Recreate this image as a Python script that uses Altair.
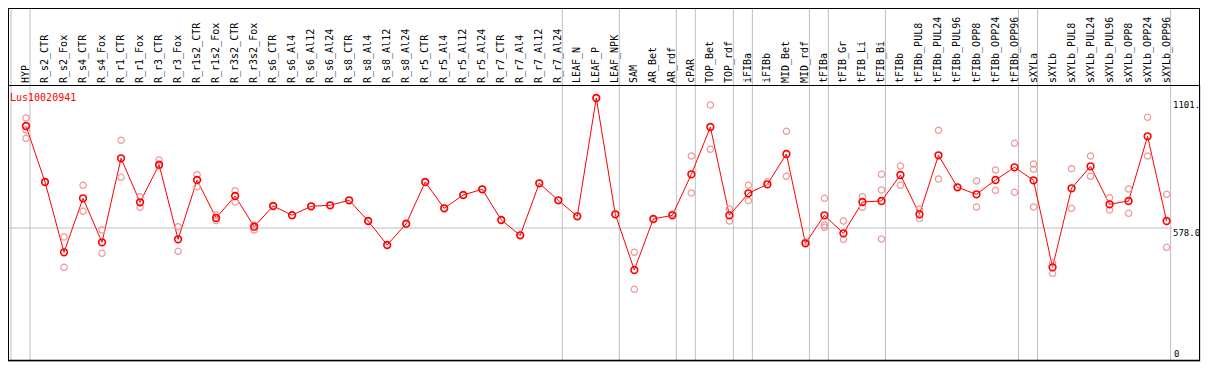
import altair as alt
import pandas as pd

categories = [
    "HYP", "R_s2_CTR", "R_s2_Fox", "R_s4_CTR", "R_s4_Fox", "R_r1_CTR", "R_r1_Fox",
    "R_r3_CTR", "R_r3_Fox", "R_r1s2_CTR", "R_r1s2_Fox", "R_r3s2_CTR", "R_r3s2_Fox",
    "R_s6_CTR", "R_s6_Al4", "R_s6_Al12", "R_s6_Al24", "R_s8_CTR", "R_s8_Al4",
    "R_s8_Al12", "R_s8_Al24", "R_r5_CTR", "R_r5_Al4", "R_r5_Al12", "R_r5_Al24",
    "R_r7_CTR", "R_r7_Al4", "R_r7_Al12", "R_r7_Al24", "LEAF_N", "LEAF_P", "LEAF_NPK",
    "SAM", "AR_Bet", "AR_rdf", "cPAR", "TOP_Bet", "TOP_rdf", "iFIBa", "iFIBb",
    "MID_Bet", "MID_rdf", "tFIBa", "tFIB_Gr", "tFIB_Li", "tFIB_Bi", "tFIBb",
    "tFIBb_PUL8", "tFIBb_PUL24", "tFIBb_PUL96", "tFIBb_OPP8", "tFIBb_OPP24",
    "tFIBb_OPP96", "sXYLa", "sXYLb", "sXYLb_PUL8", "sXYLb_PUL24", "sXYLb_PUL96",
    "sXYLb_OPP8", "sXYLb_OPP24", "sXYLb_OPP96",
]

means = [
    996.1, 766.6, 478.4, 699.8, 519.4, 863.7, 683.4, 837.5, 531.7, 774.8, 619.0,
    709.2, 583.3, 668.2, 630.5, 667.0, 671.1, 691.6, 606.7, 508.3, 595.6, 766.6,
    658.8, 713.3, 736.6, 610.8, 548.1, 761.2, 691.6, 626.0, 1110.9, 634.2, 405.8,
    614.9, 630.1, 798.1, 992.0, 630.1, 720.2, 757.1, 881.3, 515.3, 630.1, 556.3,
    684.6, 688.7, 795.3, 634.2, 876.0, 744.8, 716.1, 774.8, 826.8, 773.5, 416.9,
    740.7, 830.9, 675.2, 688.7, 953.9, 606.7,
]

replicates = [
    [1028.9, 979.7, 945.7], [766.6], [541.1, 416.9], [753.0, 646.5], [569.8, 474.3],
    [937.5, 785.8], [706.3, 662.9], [856.8, 832.2], [583.3, 482.5], [796.5, 747.3],
    [631.3, 607.9], [730.9, 684.6], [590.3, 569.8], [668.2], [630.5], [667.0],
    [671.1], [691.6], [606.7], [508.3], [595.6], [766.6], [658.8], [713.3], [736.6],
    [610.8], [548.1], [761.2], [691.6], [626.0], [1110.9], [634.2], [478.4, 326.7],
    [614.9], [635.4], [873.2, 721.5], [1082.2, 900.6], [655.9, 606.7], [753.0, 689.9],
    [767.8], [974.4, 789.9], [521.8], [699.8, 590.3, 580.9], [606.7, 531.7],
    [706.3, 662.9], [798.1, 733.8, 532.9], [832.2, 753.0], [654.7, 616.1],
    [978.5, 778.9], [744.8], [770.7, 664.1], [815.8, 732.5], [925.2, 724.3],
    [840.4, 818.6, 664.1], [435.8, 392.3], [821.1, 658.8], [873.2, 789.9],
    [702.2, 651.8], [737.9, 638.3], [1031.8, 873.2], [716.1, 498.9],
]

separators_after = [-1, 0, 28, 31, 34, 35, 37, 38, 41, 42, 45, 52, 53, 60]
gene = "Lus10020941"
ref_value = 578.0
scale_labels = ["1101.", "578.0"]
scale_label_values = [1101, 578]
y_top_value = 1164.2

FONT = "DejaVu Sans Mono"
W, H = 1192, 276
HEADER = 77
FULL_H = 284  # height that spans value 0 .. y_top_value
y_bottom_value = y_top_value * (FULL_H - H) / FULL_H

mean_df = pd.DataFrame({"idx": list(range(len(categories))), "cat": categories, "value": means})
rep_rows = []
for i, reps in enumerate(replicates):
    for v in reps:
        rep_rows.append({"idx": i, "value": v})
rep_df = pd.DataFrame(rep_rows)
sep_df = pd.DataFrame({"sep": [s + 0.21 for s in separators_after]})
ref_df = pd.DataFrame({"value": [ref_value]})
lab_df = pd.DataFrame({"value": scale_label_values, "text": scale_labels})
zero_df = pd.DataFrame({"text": ["0"]})

xscale = alt.Scale(domain=[0, 60], range=[18, 1158.6])
yscale = alt.Scale(domain=[y_bottom_value, y_top_value], zero=False, nice=False)
X = lambda f: alt.X(f, type="quantitative", scale=xscale, axis=None)
Y = lambda f: alt.Y(f, type="quantitative", scale=yscale, axis=None)

seps = alt.Chart(sep_df).mark_rule(color="#c0c0c0", strokeWidth=1).encode(
    x=X("sep"), y=alt.value(-HEADER), y2=alt.value(H)
)
refline = alt.Chart(ref_df).mark_rule(color="#c0c0c0", strokeWidth=1).encode(
    y=Y("value"), x=alt.value(0), x2=alt.value(1164)
)
header_top = alt.Chart(ref_df).mark_rule(color="black", strokeWidth=1).encode(
    x=alt.value(0), x2=alt.value(W), y=alt.value(-HEADER + 0.5)
)
header_left = alt.Chart(ref_df).mark_rule(color="black", strokeWidth=1).encode(
    x=alt.value(0.5), y=alt.value(-HEADER), y2=alt.value(H)
)
header_right = alt.Chart(ref_df).mark_rule(color="black", strokeWidth=1).encode(
    x=alt.value(W - 0.5), y=alt.value(-HEADER), y2=alt.value(H)
)
header_bottom = alt.Chart(ref_df).mark_rule(color="black", strokeWidth=1).encode(
    x=alt.value(0), x2=alt.value(W), y=alt.value(0.5)
)
bottom = alt.Chart(ref_df).mark_rule(color="black", strokeWidth=1.5).encode(
    x=alt.value(0), x2=alt.value(W), y=alt.value(H - 0.5)
)

cat_labels = alt.Chart(mean_df).mark_text(
    angle=270, align="left", baseline="middle", font=FONT, fontSize=10, color="black"
).encode(x=X("idx"), y=alt.value(-2), text="cat:N")

line = alt.Chart(mean_df).mark_line(color="#ff0000", strokeWidth=1).encode(
    x=X("idx"), y=Y("value")
)
reps_pts = alt.Chart(rep_df).mark_point(
    shape="circle", filled=False, size=40, color="#ee9999", strokeWidth=1.2, opacity=1
).encode(x=X("idx"), y=Y("value"))
mean_pts = alt.Chart(mean_df).mark_point(
    shape="circle", filled=False, size=45, color="#ff0000", strokeWidth=1.6, opacity=1
).encode(x=X("idx"), y=Y("value"))

title = alt.Chart(ref_df).mark_text(
    align="left", baseline="middle", font=FONT, fontSize=10, color="#ff0000"
).encode(x=alt.value(2), y=alt.value(13), text=alt.value(gene))

right_labels = alt.Chart(lab_df).mark_text(
    align="left", baseline="top", font=FONT, fontSize=9, color="black", dy=1
).encode(x=alt.value(1165), y=Y("value"), text="text:N")
zero_label = alt.Chart(zero_df).mark_text(
    align="left", baseline="bottom", font=FONT, fontSize=9, color="black", dy=-2
).encode(x=alt.value(1166), y=alt.value(H), text="text:N")

chart = alt.layer(
    seps, refline, header_top, header_left, header_right, header_bottom, bottom,
    cat_labels, line, reps_pts, mean_pts, title, right_labels, zero_label,
).properties(
    width=W, height=H,
    autosize=alt.AutoSizeParams(type="none"),
    padding={"left": 0, "top": HEADER, "right": 1, "bottom": 1},
).configure_view(stroke=None).configure(background="white")

chart.save("out.html", embed_options={"renderer": "svg", "actions": False})
